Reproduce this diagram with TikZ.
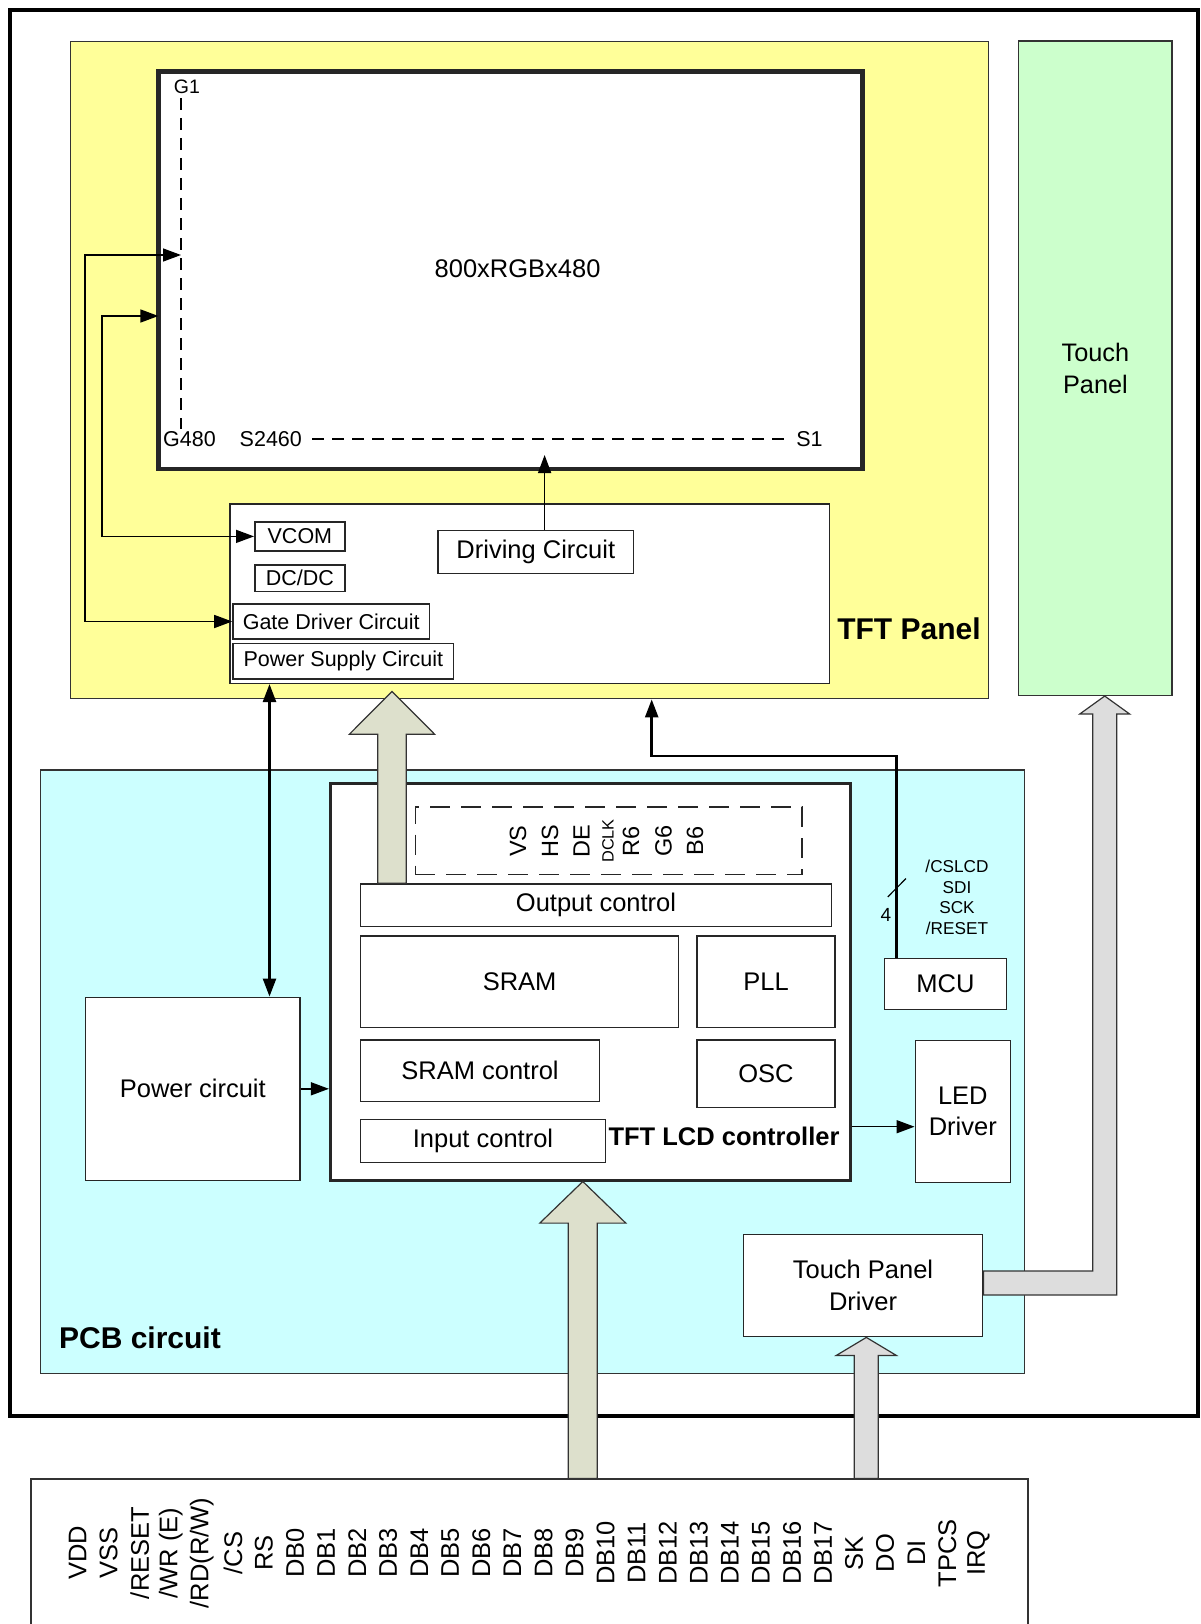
\documentclass[tikz,border=0pt]{standalone}
\usepackage{fontspec}
\setmainfont{Liberation Sans}
\usepackage{tikz}
\usetikzlibrary{arrows.meta,positioning,calc}
\definecolor{tftYellow}{RGB}{255,255,153}
\definecolor{touchGreen}{RGB}{204,255,204}
\definecolor{pcbCyan}{RGB}{204,255,255}
\definecolor{busBeige}{RGB}{221,224,204}
\definecolor{busGray}{RGB}{221,221,221}
\definecolor{edgeGray}{RGB}{51,51,51}
\tikzset{
  regionbox/.style={rectangle, draw=edgeGray, line width=1.2pt, inner sep=0pt, align=center},
  blockbox/.style={rectangle, draw=black!85, fill=white, line width=1.5pt, inner sep=0pt,
    align=center, font=\fontsize{25.5}{31.5}\selectfont},
  smallbox/.style={blockbox, font=\fontsize{21.5}{26}\selectfont},
  sigframe/.style={rectangle, draw=black!85, line width=1.5pt, dash pattern=on 20pt off 11pt},
  titlelabel/.style={font=\bfseries\fontsize{30}{36}\selectfont, inner sep=0pt},
  panellabel/.style={font=\fontsize{21.5}{26}\selectfont, inner sep=2pt},
  siglabel/.style={rotate=90, font=\fontsize{23.5}{28}\selectfont, inner sep=0pt},
  pinlabel/.style={rotate=90, font=\fontsize{25.5}{30}\selectfont, inner sep=0pt},
  buslabel/.style={align=center, font=\fontsize{17.2}{20.6}\selectfont, inner sep=0pt},
  scanline/.style={draw=black, line width=1.2pt, dash pattern=on 12pt off 8pt},
  wire/.style={draw=black, line width=1.5pt, -{Triangle[length=18pt,width=13pt]}},
  dblwire/.style={wire, {Triangle[length=18pt,width=13pt]}-{Triangle[length=18pt,width=13pt]}},
  beigebus/.style={fill=busBeige, draw=edgeGray, line width=1.2pt},
  graybus/.style={fill=busGray, draw=edgeGray, line width=1.2pt},
  blockarrow/.style args={#1/#2/#3}{to path={let \p1=(\tikztostart), \p2=(\tikztotarget) in
    (\x1-#1,\y1) -- (\x1-#1,\y2-#3) -- (\x1-#2,\y2-#3) -- (\x1,\y2) -- (\x1+#2,\y2-#3)
    -- (\x1+#1,\y2-#3) -- (\x1+#1,\y1) -- cycle}},
}

\begin{document}
\begin{tikzpicture}[x=1pt,y=-1pt]
  \useasboundingbox (0,0) rectangle (1201,1624);
  % --- Outer module frame ---
  \draw[line width=4pt] (10,10) rectangle (1198,1416);

  % --- Regions ---
  \node[regionbox, fill=tftYellow, minimum width=918.3pt, minimum height=657.6pt] (tftpanel) at (529.5,370) {};
  \node[regionbox, fill=touchGreen, minimum width=153.3pt, minimum height=654.5pt,
    font=\fontsize{25.3}{31.6}\selectfont] (touchpanel) at (1095.4,368.2) {Touch\\Panel};
  \node[regionbox, fill=pcbCyan, minimum width=984.3pt, minimum height=603.5pt] (pcb) at (532.5,1071.7) {};

  % --- TFT panel ---
  \node[blockbox, line width=4.5pt, minimum width=704pt, minimum height=397.6pt] (lcd) at (510.4,270.2) {};
  \node[font=\fontsize{25.5}{31}\selectfont] (res) at (517.6,269) {800xRGBx480};
  \node[panellabel, font=\fontsize{19.5}{24}\selectfont] (g1) at (187,86.5) {G1};
  \node[panellabel] (g480) at (189.5,439) {G480};
  \node[panellabel] (s2460) at (270.8,439) {S2460};
  \node[panellabel] (s1) at (809.4,439) {S1};
  \coordinate (gtop) at (181,98);
  \draw[scanline] (gtop) -- (gtop |- g480.north);
  \draw[scanline, shorten <=8pt, shorten >=6pt] (s2460.east) -- (s1.west);

  \node[blockbox, minimum width=599.5pt, minimum height=179.1pt] (paneldrv) at (529.55,593.75) {};
  \node[smallbox, minimum width=90.3pt, minimum height=29.2pt] (vcom) at (299.9,536.4) {VCOM};
  \node[smallbox, minimum width=90.3pt, minimum height=26.5pt] (dcdc) at (299.9,578.2) {DC/DC};
  \node[smallbox, minimum width=196.5pt, minimum height=35pt] (gatedrv) at (331.2,621.5) {Gate Driver Circuit};
  \node[smallbox, minimum width=220.6pt, minimum height=35.3pt] (powersup) at (343.3,661.3) {Power Supply Circuit};
  \node[blockbox, minimum width=195.7pt, minimum height=42.8pt] (driving) at (535.8,552.1) {Driving Circuit};
  \node[titlelabel] (tftlabel) at (909,629) {TFT Panel};

  % --- PCB circuit ---
  \node[blockbox, line width=3pt, minimum width=519.6pt, minimum height=397pt] (ctrl) at (590.2,981.5) {};
  \node[sigframe, minimum width=386.4pt, minimum height=67.5pt] (sigbox) at (608.6,840.7) {};
  \node[siglabel] (vs) at (518,841) {VS};
  \node[siglabel] (hs) at (550,841) {HS};
  \node[siglabel] (de) at (581.5,841) {DE};
  \node[siglabel, font=\fontsize{16.3}{20}\selectfont] (dclk) at (608,841) {DCLK};
  \node[siglabel] (r6) at (631,841) {R6};
  \node[siglabel] (g6) at (663.6,841) {G6};
  \node[siglabel] (b6) at (695,841) {B6};
  \node[blockbox, minimum width=470.7pt, minimum height=42.5pt] (outctrl) at (596,905.2) {Output control};
  \node[blockbox, minimum width=317.9pt, minimum height=91.7pt] (sram) at (519.6,981.8) {SRAM};
  \node[blockbox, minimum width=138pt, minimum height=91.7pt] (pll) at (766,981.8) {PLL};
  \node[blockbox, minimum width=238.6pt, minimum height=61.3pt] (sramctrl) at (480,1070.6) {SRAM control};
  \node[blockbox, minimum width=138pt, minimum height=67.3pt] (osc) at (766,1073.6) {OSC};
  \node[blockbox, minimum width=244.7pt, minimum height=43pt] (inctrl) at (483,1140.8) {Input control};
  \node[titlelabel, font=\bfseries\fontsize{25.5}{31}\selectfont] (ctrllabel) at (724,1136) {TFT LCD controller};

  \node[blockbox, minimum width=122.4pt, minimum height=51pt] (mcu) at (945.5,983.8) {MCU};
  \node[blockbox, minimum width=95pt, minimum height=142.4pt] (ledrv) at (962.8,1111.5) {LED\\Driver};
  \node[blockbox, minimum width=214.3pt, minimum height=183pt] (pwr) at (192.8,1088.8) {Power circuit};
  \node[blockbox, minimum width=239.4pt, minimum height=102.3pt] (tpdrv) at (863,1285.5) {Touch Panel\\Driver};
  \node[titlelabel] (pcblabel) at (140,1337.5) {PCB circuit};

  % --- Interface pins ---
  \node[regionbox, fill=white, minimum width=997pt, minimum height=161pt] (pins) at (529.5,1559.5) {};
  \foreach \pin [count=\i from 0] in {VDD,VSS,/RESET,/WR (E),/RD(R/W),/CS,RS,DB0,DB1,DB2,DB3,DB4,DB5,DB6,DB7,
      DB8,DB9,DB10,DB11,DB12,DB13,DB14,DB15,DB16,DB17,SK,DO,DI,TPCS,IRQ}
    \node[pinlabel] (pin\i) at ({77.6+31.06*\i},1553) {\pin};

  % --- Signal connections ---
  \coordinate (gatein) at (181,255);
  \draw[dblwire] (gatedrv.west) -- ++(-147,0) |- (gatein);
  \coordinate (vcomin) at (158.4,316);
  \draw[dblwire] (vcom.west) -- ++(-152.2,0) |- (vcomin);
  \coordinate (srcin) at (544.6,455);
  \draw[wire] (srcin |- driving.north) -- (srcin);
  \coordinate (pwrtap) at (269.5,0);
  \draw[dblwire, line width=2.5pt] (pwrtap |- paneldrv.south) -- (pwrtap |- pwr.north);
  \draw[wire] (pwr.east) -- (pwr.east -| ctrl.west);
  \coordinate (ledin) at ($(ledrv.west)+(0,15.2)$);
  \draw[wire] (ledin -| ctrl.east) -- (ledin);
  \coordinate (mcuout) at ($(mcu.north)+(-48.8,0)$);
  \coordinate (mcuin) at (651.7,0);
  \draw[wire, line width=2.5pt] (mcuout) -- ++(0,-201.8) -| (mcuin |- tftpanel.south);
  \draw[line width=1.2pt] ($(mcuout)+(-9,-60.6)$) -- ++(18.3,-18.4);
  \node[buslabel, font=\fontsize{19}{22}\selectfont] (buswidth) at (886,915) {4};
  \node[buslabel] (busnames) at (957,897.5) {/CSLCD\\SDI\\SCK\\/RESET};

  % --- Bus arrows ---
  \coordinate (outbus) at ($(outctrl.north)+(-204,0)$);
  \path[beigebus] (outbus) to[blockarrow=14.25pt/42.7pt/42.8pt] (outbus |- 0,691.5);
  \coordinate (inbus) at ($(pins.north)+(53.3,0)$);
  \path[beigebus] (inbus) to[blockarrow=14.5pt/43pt/41.6pt] (inbus |- ctrl.south);
  \coordinate (tpbus) at ($(pins.north)+(336.8,0)$);
  \path[graybus] (tpbus) to[blockarrow=12pt/30pt/18pt] (tpbus |- tpdrv.south);
  \filldraw[graybus] let \p1=(tpdrv.east), \p2=(touchpanel.south) in
    (\x1,\y1+14.5pt) -- (\x2-2.7pt,\y1+14.5pt) -- (\x2-2.7pt,\y2-18pt) -- (\x2-15.7pt,\y2-18pt)
    -- (\x2+9.3pt,\y2) -- (\x2+34.3pt,\y2-18pt) -- (\x2+21.3pt,\y2-18pt)
    -- (\x2+21.3pt,\y1-9.5pt) -- (\x1,\y1-9.5pt) -- cycle;
\end{tikzpicture}
\end{document}
